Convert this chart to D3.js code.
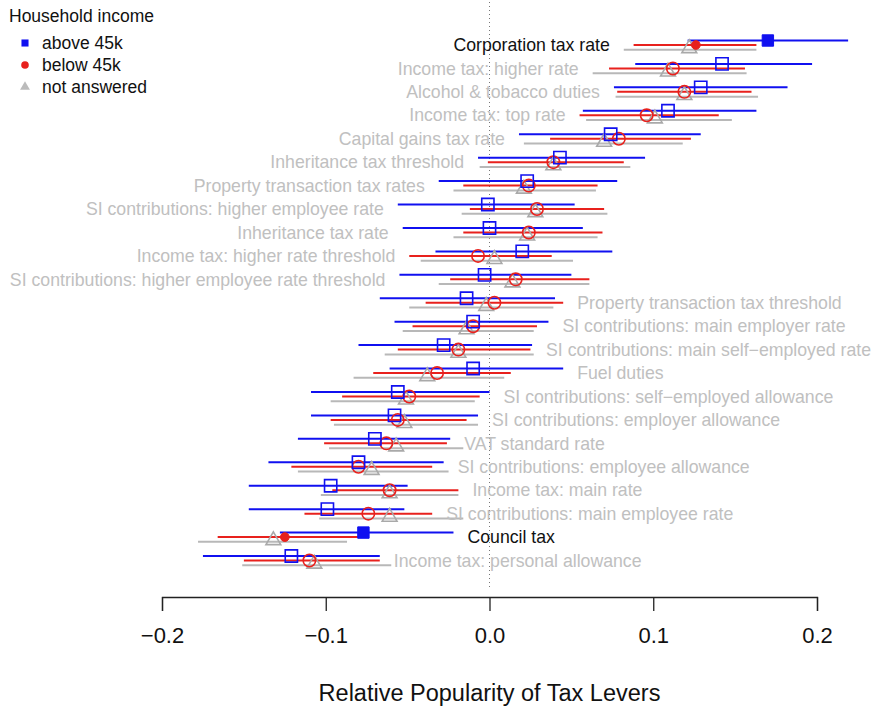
<!DOCTYPE html>
<html>
<head>
<meta charset="utf-8">
<script src="https://cdn.jsdelivr.net/npm/d3@7/dist/d3.min.js"></script>
<style>
  html, body { margin: 0; padding: 0; background: #fff; }
  svg { display: block; font-family: "Liberation Sans", Arial, Helvetica, sans-serif; }
</style>
</head>
<body>
<svg id="chart" width="872" height="711"></svg>
<script>
// ---------- data ----------
const categories = [
  "Corporation tax rate",
  "Income tax: higher rate",
  "Alcohol & tobacco duties",
  "Income tax: top rate",
  "Capital gains tax rate",
  "Inheritance tax threshold",
  "Property transaction tax rates",
  "SI contributions: higher employee rate",
  "Inheritance tax rate",
  "Income tax: higher rate threshold",
  "SI contributions: higher employee rate threshold",
  "Property transaction tax threshold",
  "SI contributions: main employer rate",
  "SI contributions: main self\u2212employed rate",
  "Fuel duties",
  "SI contributions: self\u2212employed allowance",
  "SI contributions: employer allowance",
  "VAT standard rate",
  "SI contributions: employee allowance",
  "Income tax: main rate",
  "SI contributions: main employee rate",
  "Council tax",
  "Income tax: personal allowance"
];
const highlighted = ["Corporation tax rate", "Council tax"];

const groups = ["above 45k", "below 45k", "not answered"];

const aboveMean = [0.170, 0.142, 0.129, 0.109, 0.074, 0.043, 0.023, -0.001, 0.000, 0.020, -0.003, -0.014, -0.010, -0.028, -0.010, -0.056, -0.058, -0.070, -0.080, -0.097, -0.099, -0.077, -0.121];
const aboveLo   = [0.121, 0.089, 0.076, 0.057, 0.018, -0.007, -0.031, -0.056, -0.053, -0.033, -0.055, -0.067, -0.058, -0.080, -0.061, -0.109, -0.109, -0.117, -0.135, -0.147, -0.147, -0.128, -0.175];
const aboveHi   = [0.219, 0.197, 0.182, 0.163, 0.129, 0.095, 0.078, 0.052, 0.057, 0.075, 0.050, 0.040, 0.036, 0.026, 0.045, 0.000, -0.007, -0.024, -0.028, -0.050, -0.052, -0.022, -0.067];

const belowMean = [0.126, 0.112, 0.119, 0.096, 0.079, 0.039, 0.024, 0.029, 0.024, -0.007, 0.016, 0.003, -0.010, -0.019, -0.032, -0.049, -0.056, -0.063, -0.080, -0.061, -0.074, -0.125, -0.110];
const belowLo   = [0.088, 0.073, 0.078, 0.055, 0.037, -0.001, -0.016, -0.012, -0.016, -0.049, -0.024, -0.039, -0.047, -0.056, -0.071, -0.090, -0.097, -0.101, -0.121, -0.096, -0.113, -0.166, -0.150];
const belowHi   = [0.163, 0.156, 0.160, 0.140, 0.123, 0.082, 0.066, 0.070, 0.069, 0.038, 0.061, 0.045, 0.029, 0.025, 0.013, -0.006, -0.014, -0.026, -0.035, -0.019, -0.035, -0.080, -0.067];

const naMean = [0.122, 0.109, 0.119, 0.101, 0.070, 0.039, 0.021, 0.028, 0.023, 0.003, 0.014, -0.002, -0.014, -0.019, -0.038, -0.051, -0.052, -0.057, -0.072, -0.061, -0.061, -0.132, -0.107];
const naLo   = [0.082, 0.063, 0.077, 0.059, 0.021, -0.006, -0.022, -0.017, -0.022, -0.042, -0.031, -0.049, -0.053, -0.064, -0.083, -0.097, -0.095, -0.098, -0.117, -0.103, -0.104, -0.178, -0.151];
const naHi   = [0.163, 0.157, 0.164, 0.148, 0.118, 0.086, 0.065, 0.072, 0.066, 0.051, 0.061, 0.039, 0.027, 0.027, 0.009, -0.009, -0.007, -0.016, -0.025, -0.019, -0.016, -0.087, -0.060];

const xTicks = [-0.2, -0.1, 0.0, 0.1, 0.2];
const leftLabelCount = 11; // first rows labelled on the left side

// ---------- setup ----------
const svg = d3.select("#chart");

const x = d3.scaleLinear().domain([-0.2, 0.2]).range([162, 817]);
const y = d3.scalePoint().domain(categories).range([45, 560.5]);

const colors = { "above 45k": "#1010f0", "below 45k": "#e8211d", "not answered": "#b8b8b8" };
const markerColors = { "above 45k": "#1010f0", "below 45k": "#e8211d", "not answered": "#a9a9a9" };
const offsets = { "above 45k": -4.5, "below 45k": 0, "not answered": 4.8 };

const series = [
  { g: "above 45k", mean: aboveMean, lo: aboveLo, hi: aboveHi },
  { g: "below 45k", mean: belowMean, lo: belowLo, hi: belowHi },
  { g: "not answered", mean: naMean, lo: naLo, hi: naHi }
];

// zero line
svg.append("line")
  .attr("x1", x(0)).attr("x2", x(0))
  .attr("y1", 2).attr("y2", 588)
  .attr("stroke", "#777").attr("stroke-width", 1)
  .attr("stroke-dasharray", "1,3");

// CI lines: gray, red, blue
[series[2], series[1], series[0]].forEach(s => {
  svg.append("g").selectAll("line")
    .data(categories)
    .join("line")
    .attr("x1", (c, i) => x(s.lo[i]))
    .attr("x2", (c, i) => x(s.hi[i]))
    .attr("y1", c => y(c) + offsets[s.g])
    .attr("y2", c => y(c) + offsets[s.g])
    .attr("stroke", colors[s.g])
    .attr("stroke-width", 2);
});

function marker(sel, g, filled, size) {
  const col = markerColors[g];
  if (g === "above 45k") {
    sel.append("path").attr("d", d3.symbol().type(d3.symbolSquare).size(size || 150)());
  } else if (g === "below 45k") {
    sel.append("circle").attr("r", size ? Math.sqrt(size / Math.PI) : 6.2);
  } else {
    sel.append("path").attr("d", d3.symbol().type(d3.symbolTriangle).size(size || 95)());
  }
  sel.selectAll("path,circle")
    .attr("fill", filled ? col : "none")
    .attr("stroke", col)
    .attr("stroke-width", filled ? 1 : 1.6);
}

[series[2], series[1], series[0]].forEach(s => {
  categories.forEach((c, i) => {
    const isHi = highlighted.includes(c);
    const filled = isHi && s.g !== "not answered";
    let size;
    if (isHi && s.g === "above 45k") size = 130;
    if (isHi && s.g === "below 45k") size = 60;
    const g = svg.append("g")
      .attr("transform", `translate(${x(s.mean[i])},${y(c) + offsets[s.g] + (s.g === "not answered" ? -1.5 : 0)})`);
    marker(g, s.g, filled, size);
  });
});

// labels
categories.forEach((c, i) => {
  const isHi = highlighted.includes(c);
  const left = i < leftLabelCount;
  let xp, anchor;
  if (left) {
    xp = x(Math.min(aboveLo[i], belowLo[i], naLo[i])) - 14;
    anchor = "end";
  } else {
    xp = x(Math.max(aboveHi[i], belowHi[i])) + 14;
    anchor = "start";
  }
  svg.append("text")
    .attr("x", xp)
    .attr("y", y(c))
    .attr("dy", "0.35em")
    .attr("text-anchor", anchor)
    .attr("font-size", 17.7)
    .attr("fill", isHi ? "#111" : "#c0c0c0")
    .text(c);
});

// axis
const axis = d3.axisBottom(x)
  .tickValues(xTicks)
  .tickSize(14)
  .tickPadding(16)
  .tickFormat(d => d3.format(".1f")(d).replace("-", "\u2212"));
const ax = svg.append("g").attr("transform", "translate(0,597)").call(axis);
ax.select(".domain").attr("stroke", "#222").attr("stroke-width", 1.3);
ax.selectAll(".tick line").attr("stroke", "#222").attr("stroke-width", 1.3);
ax.selectAll(".tick text")
  .attr("font-size", 22)
  .attr("fill", "#111")
  .attr("font-family", "'Liberation Sans', Arial, sans-serif");

svg.append("text")
  .attr("x", x(0))
  .attr("y", 693)
  .attr("dy", "0.35em")
  .attr("text-anchor", "middle")
  .attr("font-size", 23.5)
  .attr("fill", "#111")
  .text("Relative Popularity of Tax Levers");

// legend
const legend = svg.append("g");
legend.append("text")
  .attr("x", 9).attr("y", 16).attr("dy", "0.35em")
  .attr("font-size", 17.5).attr("fill", "#111")
  .text("Household income");
const legendY = [43, 65, 87];
groups.forEach((g, i) => {
  const m = legend.append("g").attr("transform", `translate(25,${legendY[i]})`);
  const col = markerColors[g];
  if (g === "above 45k") m.append("path").attr("d", d3.symbol().type(d3.symbolSquare).size(50)()).attr("fill", col);
  else if (g === "below 45k") m.append("circle").attr("r", 3.8).attr("fill", col);
  else m.append("path").attr("d", d3.symbol().type(d3.symbolTriangle).size(42)()).attr("fill", "#bbb");
  legend.append("text")
    .attr("x", 42).attr("y", legendY[i]).attr("dy", "0.35em")
    .attr("font-size", 17.5).attr("fill", "#111")
    .text(g);
});
</script>
</body>
</html>
